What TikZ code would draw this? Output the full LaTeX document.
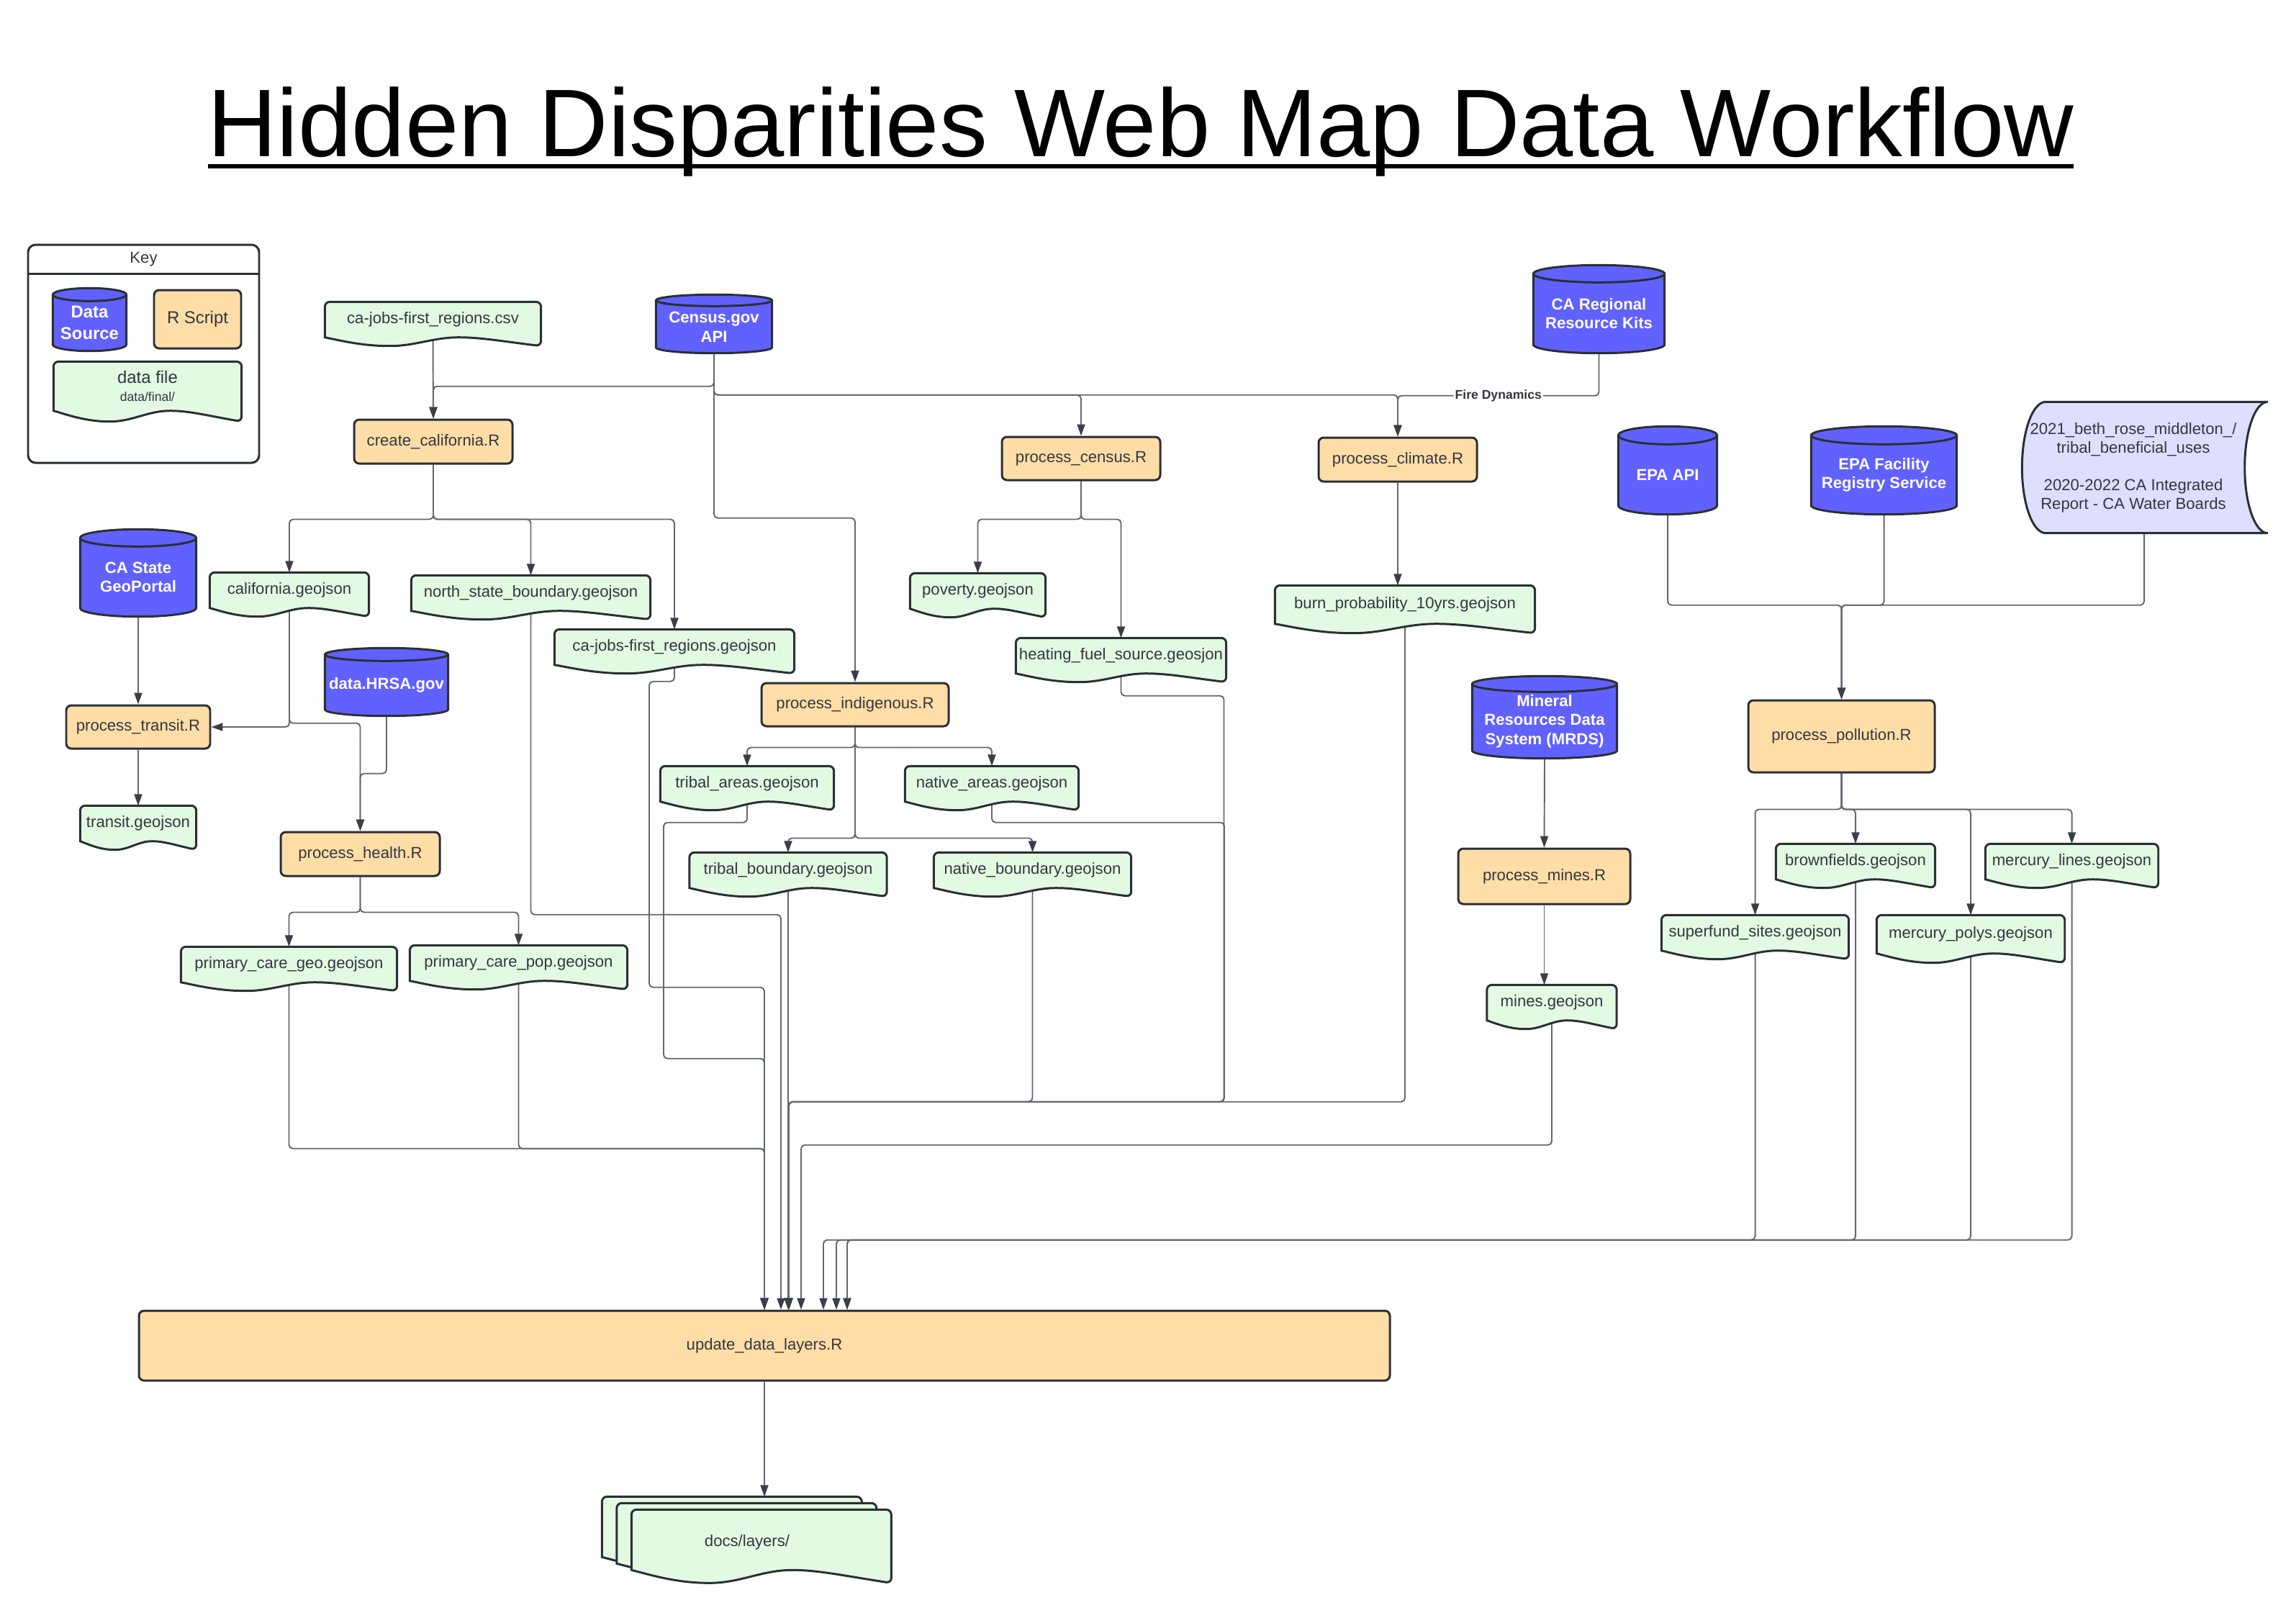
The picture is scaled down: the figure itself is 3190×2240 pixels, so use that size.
\documentclass[tikz,border=0pt]{standalone}
\usepackage{fontspec}
\setmainfont{Liberation Sans}
\usepackage{xcolor}
\usepackage{tikz}
\usetikzlibrary{positioning,arrows.meta,calc}

\definecolor{srcblue}{HTML}{6161FF}
\definecolor{scrorange}{HTML}{FFDDA6}
\definecolor{filegreen}{HTML}{E2F9E2}
\definecolor{storelav}{HTML}{DEDEFF}
\definecolor{edgedark}{HTML}{2B2F36}
\definecolor{txtgray}{HTML}{333740}
\definecolor{flowgray}{HTML}{626870}
\definecolor{tipgray}{HTML}{3A3F47}

\pgfdeclarelayer{background}
\pgfdeclarelayer{shapes}
\pgfsetlayers{background,shapes,main}

\newcommand\ttlline[1]{\setbox0=\hbox{#1}\rlap{\rule[-1.7mm]{\wd0}{0.65mm}}\box0}
% data file outline: north west corner, south east corner, depth of the wave
\newcommand\docpath[3]{%
  \path[fileshape] let \p1=#1, \p2=#2 in
    (\x1,\y2) [rounded corners=2pt] -- (\x1,\y1) -- (\x2,\y1) -- (\x2,{\y2-#3}) [sharp corners]
    .. controls ({\x1+0.82*(\x2-\x1)},{\y2-0.45*#3}) and ({\x1+0.72*(\x2-\x1)},\y2) .. ({\x1+0.62*(\x2-\x1)},\y2)
    .. controls ({\x1+0.5*(\x2-\x1)},\y2) and ({\x1+0.42*(\x2-\x1)},{\y2-#3}) .. ({\x1+0.3*(\x2-\x1)},{\y2-#3})
    .. controls ({\x1+0.17*(\x2-\x1)},{\y2-#3}) and ({\x1+0.07*(\x2-\x1)},{\y2-0.35*#3}) .. (\x1,\y2) -- cycle;}
% data source cylinder round a node, #2 = radius of the ends
\newcommand\cylsrc[2]{%
  \path[srcshape] let \p1=(#1.north west), \p2=(#1.south east) in
    (\x1,\y1) -- (\x1,{\y2+#2}) arc[start angle=180,end angle=360,x radius={(\x2-\x1)/2},y radius=#2]
    -- (\x2,\y1) arc[start angle=0,end angle=180,x radius={(\x2-\x1)/2},y radius=#2] -- cycle
    (\x1,\y1) arc[start angle=180,end angle=360,x radius={(\x2-\x1)/2},y radius=#2];}

\begin{document}
\begin{tikzpicture}[x=0.1mm,y=-0.1mm,
  lbl/.style={font=\fontsize{6.3}{7.6}\selectfont,text=txtgray},
  rscript/.style={lbl,draw=edgedark,line width=0.85pt,fill=scrorange,rounded corners=2pt,inner sep=0pt},
  dfile/.style={lbl,inner sep=0pt,minimum height=4.8mm},
  srcdb/.style={font=\fontsize{6.3}{7.6}\selectfont\bfseries,text=white,align=center,inner sep=0pt},
  fileshape/.style={draw=edgedark,line width=0.85pt,fill=filegreen},
  srcshape/.style={draw=edgedark,line width=0.85pt,fill=srcblue},
  storeshape/.style={draw=edgedark,line width=0.85pt,fill=storelav},
  keyframe/.style={draw=edgedark,line width=0.85pt,rounded corners=3pt,inner sep=0pt},
  flow/.style={draw=flowgray,line width=0.55pt,rounded corners=1.5pt,-{Triangle[length=1.6mm,width=1.1mm,color=tipgray]}},
  fdlabel/.style={font=\fontsize{5}{6}\selectfont\bfseries,text=txtgray,fill=white,inner sep=0.6pt}]
\useasboundingbox (0,0) rectangle (3190,2240);

\node[font=\fontsize{38}{46}\selectfont,anchor=base] (title) at (1585,217) {\ttlline{Hidden Disparities Web Map Data Workflow}};

% key
\node[keyframe,minimum width=32.1mm,minimum height=30.3mm] (keybox) at (199.5,491.5) {};
\node[lbl,anchor=north,minimum width=32.1mm,minimum height=4.1mm,inner sep=0pt] (keyttl) at (keybox.north) {Key};
\draw[edgedark,line width=0.85pt] (keyttl.south west) -- (keyttl.south east);
\node[srcdb,font=\fontsize{6.8}{8.5}\selectfont\bfseries,minimum width=10.1mm,minimum height=7.7mm] (keysrc) at (124.5,448.5) {Data\\Source};
\node[rscript,font=\fontsize{6.8}{8.2}\selectfont,minimum width=12.1mm,minimum height=8.1mm] (keyscr) at (274.5,443.5) {R Script};
\node[dfile,align=center,font=\fontsize{6.8}{8.2}\selectfont,minimum width=26mm,minimum height=6.7mm] (keyfile) at (205,536.5) {data file\\[-1pt]{\fontsize{5}{6}\selectfont data/final/}};

% data sources
\foreach \nm/\cx/\cy/\w/\hh/\ry/\txt in {
  censusapi/992/454/16mm/7.2mm/0.8mm/Census.gov\\API,
  caregional/2221.5/435.5/18.1mm/10.9mm/1.2mm/CA Regional\\Resource Kits,
  epaapi/2317/659.75/13.6mm/10.85mm/1.25mm/EPA API,
  epafrs/2617.5/659.75/20.1mm/10.85mm/1.25mm/EPA Facility\\Registry Service,
  geoportal/192/802/16mm/10.8mm/1.2mm/CA State\\GeoPortal,
  hrsa/537/952/17mm/8.4mm/0.9mm/data.HRSA.gov,
  mrds/2146/1002/20mm/10.2mm/1.1mm/Mineral\\Resources Data\\System (MRDS)}{
  \node[srcdb,minimum width=\w,minimum height=\hh] (\nm) at (\cx,\cy) {\txt};
  \begin{pgfonlayer}{shapes}\cylsrc{\nm}{\ry}\end{pgfonlayer}}
\node[lbl,align=center,inner sep=0pt,font=\fontsize{6.3}{7.4}\selectfont,minimum width=30.8mm,minimum height=18.1mm] (waterdocs) at (2964,649.5)
  {2021\_beth\_rose\_middleton\_/\\tribal\_beneficial\_uses\\[7.4pt]2020-2022 CA Integrated\\Report - CA Water Boards};

% R scripts
\foreach \nm/\cx/\cy/\w/\hh/\txt in {
  createcal/602/613.5/22mm/6.1mm/create\_california.R,
  proccensus/1502/637/22mm/6mm/process\_census.R,
  procclimate/1942/638.5/22mm/6.1mm/process\_climate.R,
  proctransit/192/1010/20mm/6mm/process\_transit.R,
  prochealth/500.5/1186.5/22.1mm/6.1mm/process\_health.R,
  procindig/1188/979/26mm/6mm/process\_indigenous.R,
  procmines/2145.5/1217.5/23.9mm/7.7mm/process\_mines.R,
  procpoll/2558.5/1023/25.9mm/10mm/process\_pollution.R}
  \node[rscript,minimum width=\w,minimum height=\hh] (\nm) at (\cx,\cy) {\txt};
\node[rscript,minimum width=173.8mm,minimum height=9.7mm] (update) at (1062,1869.5) {update\_data\_layers.R};
\foreach \k/\dx in {1/0,2/23,3/34,4/51,5/82,6/100,7/115}
  \coordinate (upin\k) at ($(update.north)+(\dx,0)$);

% data files
\foreach \nm/\cx/\cy/\w/\txt in {
  csvjobs/601.5/444/29.9mm/ca-jobs-first\_regions.csv,
  calgeo/402/820/22mm/california.geojson,
  northgeo/737.5/824/33.1mm/north\_state\_boundary.geojson,
  jobsgeo/937/899/33.2mm/ca-jobs-first\_regions.geojson,
  transitgeo/192/1144/16mm/transit.geojson,
  pcgeo/401.5/1340/29.9mm/primary\_care\_geo.geojson,
  pcpop/720.5/1338/30.1mm/primary\_care\_pop.geojson,
  povgeo/1358.5/821/18.7mm/poverty.geojson,
  heatgeo/1557.5/911/29.1mm/heating\_fuel\_source.geosjon,
  tribareas/1038/1089/24mm/tribal\_areas.geojson,
  natareas/1378/1089/24mm/native\_areas.geojson,
  tribbound/1095/1209/27.3mm/tribal\_boundary.geojson,
  natbound/1434.5/1209/27.3mm/native\_boundary.geojson,
  minesgeo/2156/1393/17.9mm/mines.geojson,
  brownfgeo/2578/1197/22mm/brownfields.geojson,
  mercl/2878.5/1197/23.9mm/mercury\_lines.geojson,
  superfgeo/2438.5/1296/25.9mm/superfund\_sites.geojson}
  \node[dfile,minimum width=\w] (\nm) at (\cx,\cy) {\txt};
\node[dfile,minimum width=36mm,minimum height=5.2mm] (burngeo) at (1952,840) {burn\_probability\_10yrs.geojson};
\node[dfile,minimum width=26mm,minimum height=5.2mm] (mercp) at (2738,1298) {mercury\_polys.geojson};
\node[lbl,inner sep=0pt,minimum width=40.2mm,minimum height=10.2mm] (docs) at (1038,2131) {\raisebox{-1.7mm}[0pt][0pt]{docs/layers/}};

\begin{pgfonlayer}{shapes}
  \foreach \nm in {csvjobs,calgeo,northgeo,jobsgeo,transitgeo,pcgeo,pcpop,povgeo,heatgeo,
    tribareas,natareas,tribbound,natbound,minesgeo,brownfgeo,mercl,superfgeo}
    \docpath{(\nm.north west)}{(\nm.south east)}{1.2mm};
  \foreach \nm in {burngeo,mercp} \docpath{(\nm.north west)}{(\nm.south east)}{1.3mm};
  \docpath{(keyfile.north west)}{(keyfile.south east)}{1.5mm};
  \foreach \dx/\dy in {0/0,20.5/9,41/18}
    \docpath{($(docs.north west)+(\dx,\dy)$)}{($(docs.north west)+(361+\dx,84+\dy)$)}{1.8mm};
  % stored data: round bulge on the left, hollow curve on the right
  \path[storeshape] let \p1=(waterdocs.north west), \p2=(waterdocs.south east) in
    ({\x1+3.3mm},\y1) -- ({\x2+3.2mm},\y1)
    arc[start angle=90,end angle=270,x radius=3.2mm,y radius={(\y1-\y2)/2}]
    -- ({\x1+3.3mm},\y2)
    arc[start angle=270,end angle=90,x radius=3.3mm,y radius={(\y1-\y2)/2}] -- cycle;
  \cylsrc{keysrc}{0.9mm}
\end{pgfonlayer}

\begin{pgfonlayer}{background}
% sources into scripts
\draw[flow] (csvjobs.south) -- (createcal.north);
\draw[flow] (censusapi.south) -- ++(0,46) -| (createcal.north);
\foreach \t in {proccensus,procclimate} \draw[flow] (censusapi.south) -- ++(0,58) -| (\t.north);
\draw[flow] (caregional.south) -- ++(0,59) -| node[fdlabel,pos=0.25] (firedyn) {Fire Dynamics} (procclimate.north);
\draw[flow] (censusapi.south) -- ++(0,229) -| (procindig.north);
\draw[flow] (geoportal.south) -- (proctransit.north);
\draw[flow] (calgeo.south) |- (proctransit.east);
\draw[flow] (calgeo.south) -- ++(0,160) -| (prochealth.north);
\draw[flow] (hrsa.south) -- ++(0,80) -| (prochealth.north);
\foreach \t in {epaapi,epafrs} \draw[flow] (\t.south) -- ++(0,126) -| (procpoll.north);
\draw[flow] ([xshift=1.5mm]waterdocs.south) -- ++(0,100) -| (procpoll.north);
\draw[flow] (mrds.south) -- (procmines.north);
% scripts to files
\foreach \t in {calgeo,northgeo,jobsgeo} \draw[flow] (createcal.south) -- ++(0,76) -| (\t.north);
\foreach \t in {povgeo,heatgeo} \draw[flow] (proccensus.south) -- ++(0,53) -| (\t.north);
\draw[flow] (procclimate.south) -- (procclimate.south |- burngeo.north);
\draw[flow] (proctransit.south) -- (transitgeo.north);
\foreach \t in {pcgeo,pcpop} \draw[flow] (prochealth.south) -- ++(0,49) -| (\t.north);
\foreach \t in {tribareas,natareas} \draw[flow] (procindig.south) -- ++(0,28) -| (\t.north);
\foreach \t in {tribbound,natbound} \draw[flow] (procindig.south) -- ++(0,154) -| (\t.north);
\draw[flow] (procmines.south) -- (procmines.south |- minesgeo.north);
\foreach \t in {superfgeo,brownfgeo,mercp,mercl} \draw[flow] (procpoll.south) -- ++(0,50) -| (\t.north);
% files into update_data_layers
\draw[flow] (northgeo.south) -- ++(0,422) -| (upin2);
\draw[flow] (jobsgeo.south) -- ++(0,23) -| ++(-35,425) -| (upin1);
\draw[flow] (tribareas.south) -- ++(0,29) -| ++(-116,328) -| (upin1);
\foreach \t/\dy in {pcgeo/231,pcpop/233} \draw[flow] (\t.south) -- ++(0,\dy) -| (upin1);
\draw[flow] (tribbound.south) -- (tribbound.south |- update.north);
\draw[flow] (natbound.south) -- ++(0,297) -| (upin3);
\draw[flow] (heatgeo.south) -- ++(0,31) -| ++(143,564) -| (upin3);
\draw[flow] (natareas.south) -- ++(0,29) -| ++(323,388) -| (upin3);
\draw[flow] (burngeo.south) -- ++(0,664) -| (upin3);
\draw[flow] (minesgeo.south) -- ++(0,173) -| (upin4);
\foreach \t/\dy/\k in {superfgeo/402/5,brownfgeo/501/6,mercp/398/7,mercl/501/7}
  \draw[flow] (\t.south) -- ++(0,\dy) -| (upin\k);
\draw[flow] (update.south) -- (update.south |- docs.north);
\end{pgfonlayer}
\end{tikzpicture}
\end{document}
